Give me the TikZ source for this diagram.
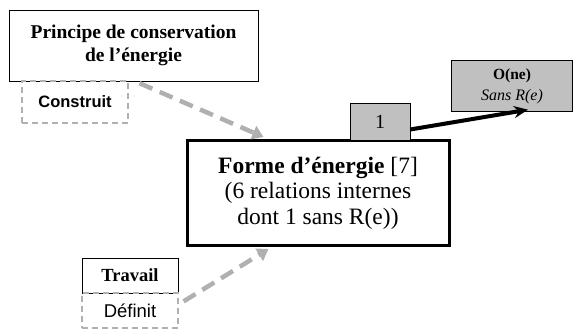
\documentclass[tikz,border=0pt]{standalone}
\usepackage{fontspec}
\setmainfont{Liberation Serif}
\setsansfont{Liberation Sans}
\usepackage{tikz}
\usetikzlibrary{arrows.meta,calc,positioning}
\definecolor{boxgray}{RGB}{192,192,192}
\definecolor{lnkgray}{RGB}{176,176,176}

\begin{document}
\begin{tikzpicture}[x=1pt,y=-1pt,>=Stealth,
        b/.style={draw,align=center,inner sep=1pt},
        tag/.style={draw=lnkgray,dashed,line width=1.2pt,dash pattern=on 6pt off 4pt,inner sep=1pt,font=\sffamily\fontsize{18.5}{20}\selectfont},
        lnk/.style={draw=lnkgray,line width=4.5pt,dash pattern=on 14pt off 8pt,-{Triangle[length=11pt,width=14pt]}}]
        \useasboundingbox (0,0) rectangle (574,329);
        \node[b,minimum width=249pt,minimum height=71pt,font=\bfseries\fontsize{19.5}{23}\selectfont] (princ) at (133.5,45.5) {Principe de conservation\\de l’énergie};
        \node[tag,minimum width=106pt,minimum height=42pt,font=\sffamily\bfseries\fontsize{16.5}{20}\selectfont] (constr) at (75,102) {Construit};
        \node[b,line width=3pt,minimum width=262pt,minimum height=105pt,font=\fontsize{23.5}{25.5}\selectfont] (forme) at (318,193) {\textbf{Forme d’énergie} [7]\\(6 relations internes\\dont 1 sans R(e))};
        \node[b,fill=boxgray,minimum width=60pt,minimum height=37pt,font=\fontsize{20}{22}\selectfont] (un) at (380,121.5) {1};
        \node[b,fill=boxgray,minimum width=121pt,minimum height=51pt,font=\fontsize{16}{21}\selectfont] (one) at (512,86) {\textbf{\fontsize{15.5}{21}\selectfont O(ne)}\\\textit{Sans R(e)}};
        \node[b,minimum width=96pt,minimum height=35pt,font=\bfseries\fontsize{18.5}{22}\selectfont] (trav) at (130,275.5) {Travail};
        \node[tag,minimum width=96pt,minimum height=35pt] (def) at (130,310.5) {Définit};
        \draw[lnk] ($(princ.south)+(6,2)$) -- ($(forme.north west)+(78,-2)$);
        \draw[lnk] ($(def.north east)+(5,9)$) -- ($(forme.south west)+(83,2)$);
        \draw[line width=4pt,-{Stealth[length=14pt,width=12pt]}] ($(un.east)+(0,8)$) -- ($(one.south)+(16,-2)$);
      \end{tikzpicture}
\end{document}
